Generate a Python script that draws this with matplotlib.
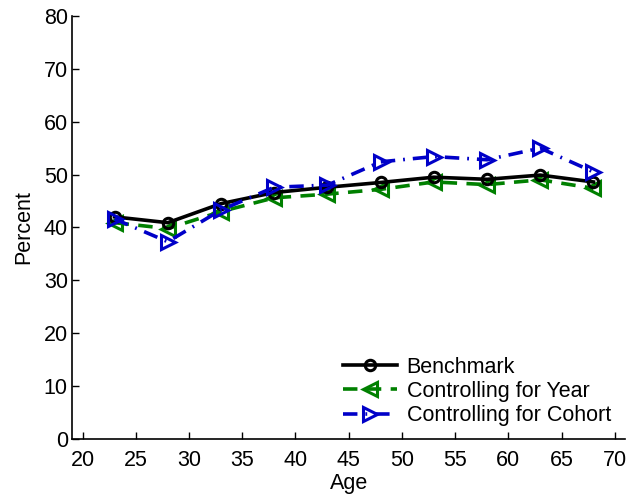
import matplotlib
matplotlib.use("Agg")
import matplotlib.pyplot as plt

plt.rcParams['font.family'] = ['Liberation Sans', 'DejaVu Sans']

age = [23, 28, 33, 38, 43, 48, 53, 58, 63, 68]
benchmark = [42.0, 40.9, 44.5, 46.6, 47.6, 48.5, 49.5, 49.1, 49.9, 48.6]
ctrl_year = [40.9, 39.8, 43.0, 45.6, 46.3, 47.2, 48.6, 48.1, 49.0, 47.4]
ctrl_cohort = [41.6, 37.3, 43.3, 47.6, 48.0, 52.4, 53.4, 52.8, 55.0, 50.5]

x_ticks = [20, 25, 30, 35, 40, 45, 50, 55, 60, 65, 70]
y_ticks = [0, 10, 20, 30, 40, 50, 60, 70, 80]

FS = 15.5

fig = plt.figure(figsize=(6.26, 4.95), dpi=100)
ax = fig.add_axes([0.115, 0.113, 0.884, 0.855])

ax.plot(age, benchmark, color='black', lw=2.6, marker='o', ms=7.5,
        mfc='none', mew=2.2, label='Benchmark', zorder=3)
ax.plot(age, ctrl_year, color='#008000', lw=2.6, ls=(0, (4.0, 2.6)),
        marker='<', ms=10, mfc='none', mew=2.2, label='Controlling for Year', zorder=2)
ax.plot(age, ctrl_cohort, color='#0000C8', lw=2.6, ls=(0, (4.0, 2.2, 0.5, 2.2)),
        marker='>', ms=10, mfc='none', mew=2.2, label='Controlling for Cohort', zorder=4)

ax.set_xlim(19, 71)
ax.set_ylim(0, 80)
ax.set_xticks(x_ticks)
ax.set_yticks(y_ticks)
ax.tick_params(direction='in', length=5, width=1, labelsize=FS)
ax.tick_params(axis='x', pad=8)
ax.tick_params(axis='y', pad=3)
for s in ('top', 'right'):
    ax.spines[s].set_visible(False)
for s in ('left', 'bottom'):
    ax.spines[s].set_linewidth(1.2)

ax.set_xlabel('Age', fontsize=FS, labelpad=1.5)
ax.set_ylabel('Percent', fontsize=FS, labelpad=7)

ax.legend(loc='lower right', bbox_to_anchor=(0.997, 0.0), frameon=False,
          fontsize=FS, handlelength=2.5, handletextpad=0.45,
          labelspacing=0.15, borderaxespad=0.2)

fig.savefig('out.png', dpi=100)
